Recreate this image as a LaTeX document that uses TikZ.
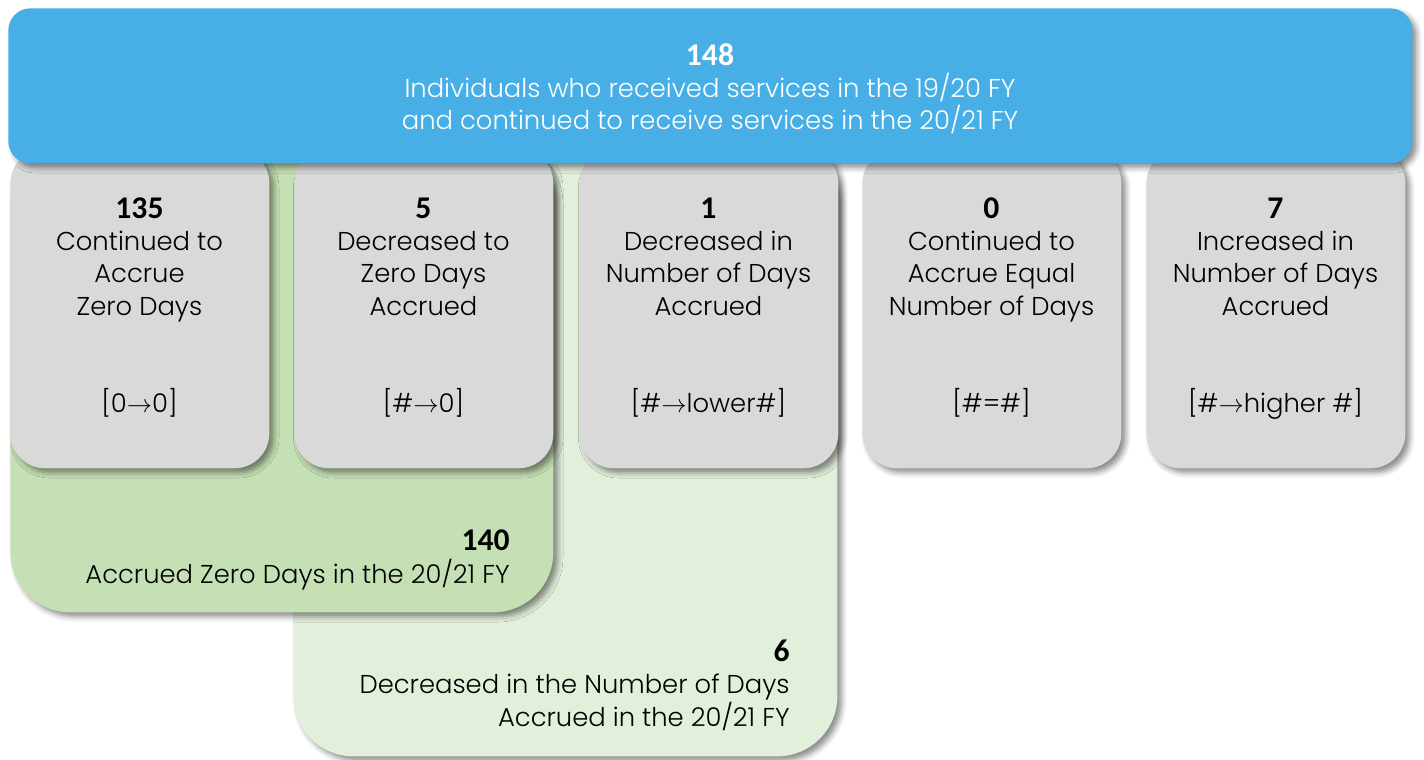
\documentclass[tikz,border=0pt]{standalone}
\usepackage{fontspec}
\setmainfont{Poppins Light}
\newfontfamily\numfont{Carlito}
\usetikzlibrary{positioning,shadows.blur}
\newcommand{\pxu}{0.02cm}
\definecolor{topblue}{HTML}{47AFE6}
\definecolor{cardgray}{HTML}{D9D9D9}
\definecolor{zerogreen}{HTML}{C5E0B4}
\definecolor{lessgreen}{HTML}{E2EFDA}
\newcommand{\cnt}[1]{{\numfont\bfseries\fontsize{18}{18}\selectfont #1}}
\newcommand{\ar}{$\rightarrow$}
\tikzset{
    softshad/.style={blur shadow={shadow xshift=2.5pt, shadow yshift=-2.5pt, shadow blur radius=3pt, shadow opacity=45}},
    boxsty/.style={rectangle, anchor=north west, inner sep=0pt, softshad},
    topsty/.style={boxsty, fill=topblue, rounded corners=0.44cm},
    cardsty/.style={boxsty, fill=cardgray, rounded corners=0.7cm, minimum width=259*\pxu, minimum height=320*\pxu},
    sumsty/.style={boxsty, rounded corners=1.2cm},
    % base anchor sits on the last line
    cardtxt/.style={align=center, anchor=base, inner sep=0pt, font=\fontsize{14.7}{18.4}\selectfont},
    sumtxt/.style={align=right, anchor=base east, inner sep=0pt, font=\fontsize{14.7}{18.4}\selectfont},
}

\begin{document}
\begin{tikzpicture}[x=\pxu, y=-\pxu]
\useasboundingbox (0,0) rectangle (1424,760);

% totals behind the cards
\node[sumsty, fill=lessgreen, minimum width=544*\pxu, minimum height=616*\pxu] (less) at (293,140) {};
\node[sumsty, fill=zerogreen, minimum width=543*\pxu, minimum height=472*\pxu] (zero) at (10,140) {};
\node[sumtxt] (zerotxt) at (510,583) {\cnt{140}\\Accrued Zero Days in the 20/21 FY};
\node[sumtxt] (lesstxt) at (790,726) {\cnt{6}\\Decreased in the Number of Days\\Accrued in the 20/21 FY};

% the five cards
\foreach \x/\n/\txt in {
    10/1/{\cnt{135}\\Continued to\\Accrue\\Zero Days\\[36.8pt][0\ar0]},
    294/2/{\cnt{5}\\Decreased to\\Zero Days\\Accrued\\[36.8pt][\#\ar0]},
    579/3/{\cnt{1}\\Decreased in\\Number of Days\\Accrued\\[36.8pt][\#\ar lower\#]},
    862/4/{\cnt{0}\\Continued to\\Accrue Equal\\Number of Days\\[36.8pt][\#=\#]},
    1146/5/{\cnt{7}\\Increased in\\Number of Days\\Accrued\\[36.8pt][\#\ar higher \#]}}
{
    \node[cardsty] (c\n) at (\x,148) {};
    \node[cardtxt] (t\n) at (\x+129.5,412) {\txt};
}

% header
\node[topsty, minimum width=1404*\pxu, minimum height=155*\pxu] (top) at (8,8) {};
\node[cardtxt, text=white] (toptxt) at (710,130) {\cnt{148}\\Individuals who received services in the 19/20 FY\\and continued to receive services in the 20/21 FY};
\end{tikzpicture}
\end{document}
